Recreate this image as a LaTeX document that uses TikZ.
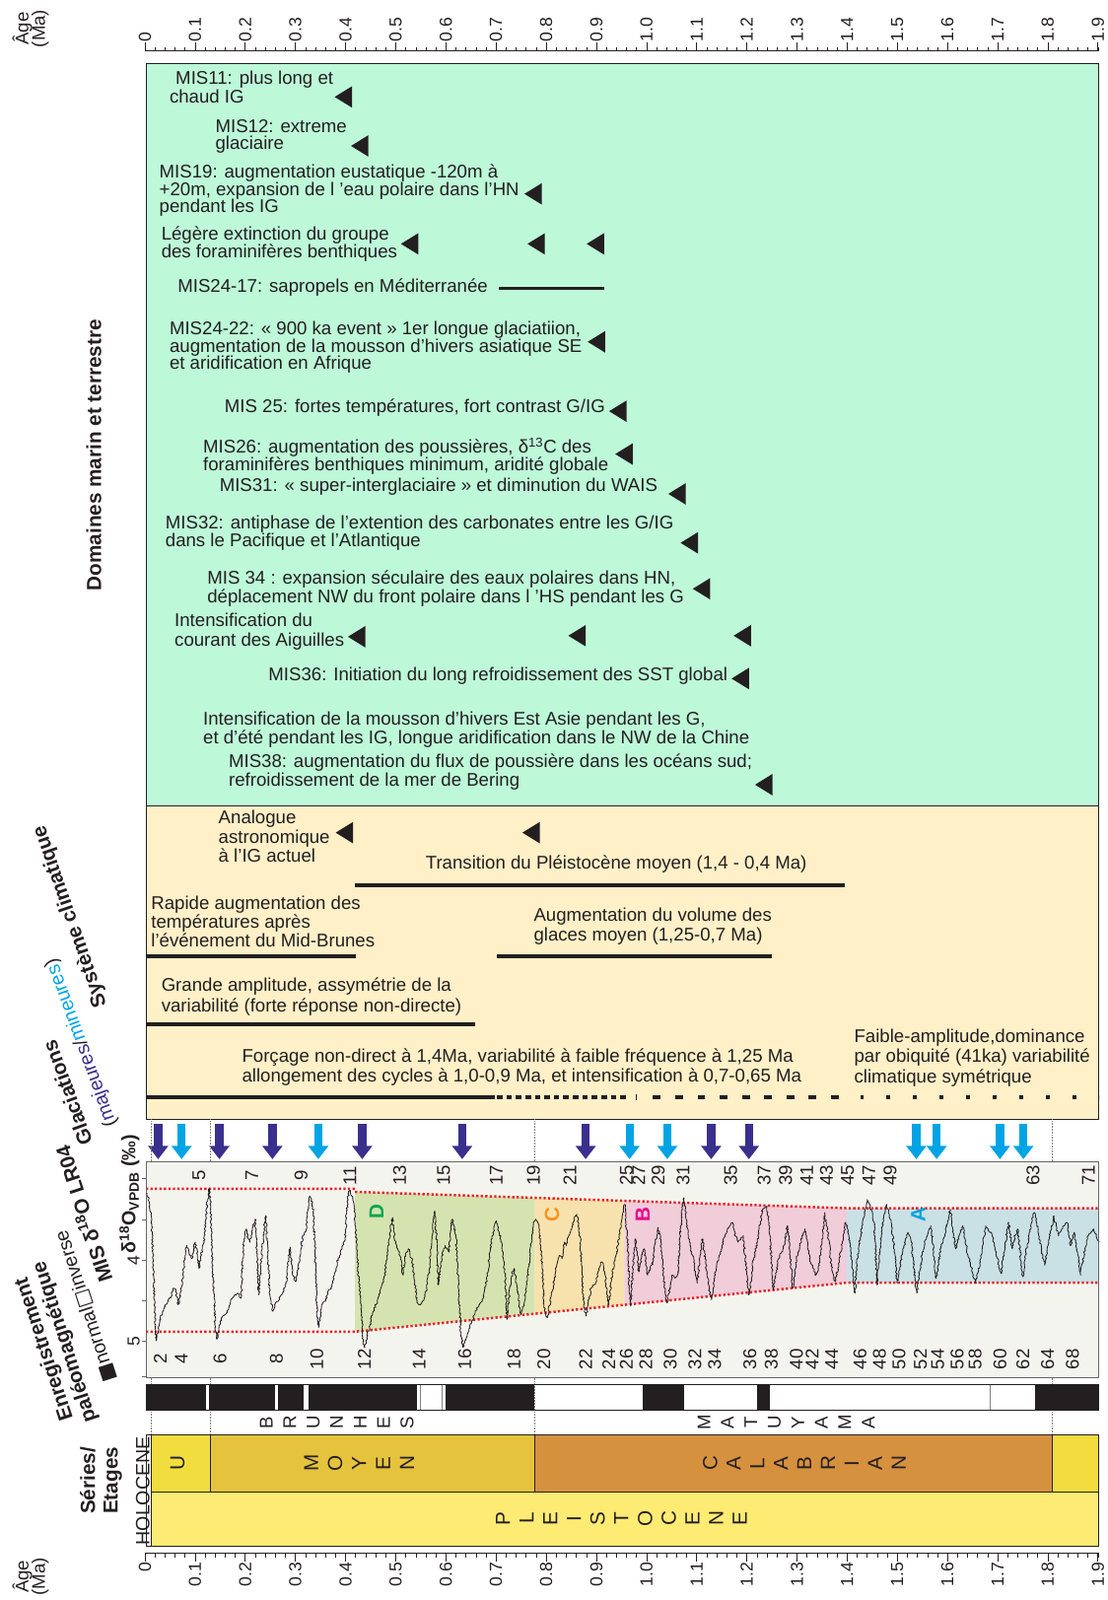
\documentclass[tikz,border=0pt]{standalone}
\usepackage{fontspec}
\setmainfont{Liberation Sans}
\newfontfamily\symbfont{DejaVu Sans}
\usetikzlibrary{arrows.meta,decorations.pathmorphing}
\definecolor{ink}{HTML}{231F20}
\definecolor{mint}{HTML}{BDF8D9}
\definecolor{cream}{HTML}{FFF0C8}
\definecolor{plotbg}{HTML}{F4F4EE}
\definecolor{zoneD}{HTML}{D5E3B0}
\definecolor{zoneC}{HTML}{F7E2AE}
\definecolor{zoneB}{HTML}{F1CCD9}
\definecolor{zoneA}{HTML}{C9E0E5}
\definecolor{labD}{HTML}{00A651}
\definecolor{labC}{HTML}{F7941D}
\definecolor{labB}{HTML}{EC008C}
\definecolor{labA}{HTML}{00A3E0}
\definecolor{major}{HTML}{3A2F8D}
\definecolor{minor}{HTML}{00A4E4}
\definecolor{redl}{HTML}{E62129}
\definecolor{upper}{HTML}{F2DD3F}
\definecolor{middle}{HTML}{E5C33C}
\definecolor{calab}{HTML}{D6913F}
\definecolor{gelas}{HTML}{F2DC3E}
\definecolor{pleist}{HTML}{FDEB73}
\newcommand{\fs}[2]{\fontsize{#1}{#2}\selectfont\lineskiplimit=-20pt}

\begin{document}
\begin{tikzpicture}[x=1pt,y=-1pt,text=ink,font=\fs{18}{19},
  declare function={ma(\a)=142+491.6*\a;},
  txt/.style={anchor=north west,inner sep=0pt,align=left},
  tight/.style={txt,font=\fs{18}{17}},
  loose/.style={txt,font=\fs{18}{19}},
  oneline/.style={anchor=west,inner sep=0pt},
  sidelab/.style={font=\bfseries\fs{20}{22}},
  rot/.style={rotate=90,inner sep=1pt},
  glac/.style={line width=8pt,-{Triangle[width=19pt,length=13pt]}},
  tline/.style={line width=3.8pt,draw=ink},
  reddots/.style={redl,line width=2.4pt,dash pattern=on 2.2pt off 2.2pt},
  guide/.style={gray,line width=0.5pt,densely dotted},
  lrcurve/.style={ink,line width=0.8pt,line join=round,decorate,
    decoration={random steps,segment length=1.5pt,amplitude=0.9pt}},
  evt/.pic={\fill[ink] (0,0) -- (17,-10.5) -- (17,10.5) -- cycle;}]
  \useasboundingbox (0,0) rectangle (1085,1568);

  % age axes
  \node[rot,align=center,font=\fs{18}{16}] (agetop) at (30,28) {Âge\\(Ma)};
  \node[rot,align=center,font=\fs{18}{16}] (agebot) at (30,1545) {Âge\\(Ma)};
  \draw[ink,line width=0.6pt] ({ma(0)},50) -- ({ma(1.9)},50);
  \draw[ink,line width=0.6pt] ({ma(0)},1522) -- ({ma(1.9)},1522);
  \foreach \i in {0,...,95}{
    \draw[ink,line width=0.5pt] ({ma(\i/50)},50) -- ++(0,-4);
    \draw[ink,line width=0.5pt] ({ma(\i/50)},1522) -- ++(0,4);
  }
  \foreach \t [count=\i] in {0,0.1,0.2,0.3,0.4,0.5,0.6,0.7,0.8,0.9,1.0,
                             1.1,1.2,1.3,1.4,1.5,1.6,1.7,1.8,1.9}{
    \draw[ink,line width=0.6pt] ({ma(\t)},50) -- ++(0,-8)
      node[rot,anchor=west,font=\fs{17}{17}] (ta\i) {\t};
    \draw[ink,line width=0.6pt] ({ma(\t)},1522) -- ++(0,8)
      node[rot,anchor=east,font=\fs{17}{17}] (ba\i) {\t};
  }

  % domaines marin et terrestre
  \draw[ink,line width=0.8pt,fill=mint] (143,62) rectangle (1077,790);
  \node[rot,sidelab] (dom) at (92,446) {Domaines marin et terrestre};
  \node[loose] (gt1) at (166,69) {\hspace*{6pt}MIS11: plus long et\\chaud IG};
  \node[tight] (gt2) at (211,117) {MIS12: extreme\\glaciaire};
  \node[tight] (gt3) at (156,161) {MIS19: augmentation eustatique -120m à\\+20m, expansion de l ’eau polaire dans l’HN\\pendant les IG};
  \node[tight] (gt4) at (158,222) {Légère extinction du groupe\\des foraminifères benthiques};
  \node[oneline] (gt5) at (174,282) {MIS24-17: sapropels en Méditerranée};
  \node[tight] (gt6) at (166,315) {MIS24-22: « 900 ka event » 1er longue glaciatiion,\\augmentation de la mousson d’hivers asiatique SE\\et aridification en Afrique};
  \node[oneline] (gt7) at (220,400) {MIS 25: fortes températures, fort contrast G/IG};
  \node[tight] (gt8) at (199,429) {MIS26: augmentation des poussières, δ\textsuperscript{13}C des\\foraminifères benthiques minimum, aridité globale};
  \node[oneline] (gt9) at (215,477) {MIS31: « super-interglaciaire » et diminution du WAIS};
  \node[tight] (gt10) at (162,505) {MIS32: antiphase de l’extention des carbonates entre les G/IG\\dans le Pacifique et l’Atlantique};
  \node[tight,font=\fs{18}{18}] (gt11) at (203,559) {MIS 34 : expansion séculaire des eaux polaires dans HN,\\déplacement NW du front polaire dans l ’HS pendant les G};
  \node[loose] (gt12) at (171,601) {Intensification du\\courant des Aiguilles};
  \node[oneline] (gt13) at (263,662) {MIS36: Initiation du long refroidissement des SST global};
  \node[loose] (gt14) at (199,697) {Intensification de la mousson d’hivers Est Asie pendant les G,\\et d’été pendant les IG, longue aridification dans le NW de la Chine};
  \node[tight,font=\fs{18}{18}] (gt15) at (224,739) {MIS38: augmentation du flux de poussière dans les océans sud;\\refroidissement de la mer de Bering};
  \draw[ink,line width=3pt] (489,283) -- (592,283);
  \foreach \x/\y in {328/95,344/143,514/190,393/239,517/239,575/239,576/335,
                     597/403,603/445,655/484,667/532,679/577,341/624,557/623,
                     719/623,717/665,740/769}
    \pic at (\x,\y) {evt};

  % systeme climatique
  \draw[ink,line width=0.8pt,fill=cream] (143,790) rectangle (1077,1097);
  \node[rotate=109,sidelab] (sys) at (69,898) {Système climatique};
  \node[loose] (bt1) at (214,794) {Analogue\\astronomique\\à l’IG actuel};
  \pic at (329,816) {evt};
  \pic at (512,816) {evt};
  \node[oneline] (bt2) at (417,847) {Transition du Pléistocène moyen (1,4 - 0,4 Ma)};
  \draw[tline] (348,868) -- (828,868);
  \node[txt,font=\fs{18}{18.5}] (bt3) at (148,878) {Rapide augmentation des\\températures après\\l’événement du Mid-Brunes};
  \draw[tline] (143,937) -- (349,937);
  \node[loose] (bt4) at (523,890) {Augmentation du volume des\\glaces moyen (1,25-0,7 Ma)};
  \draw[tline] (487,937) -- (756,937);
  \node[txt,font=\fs{18}{20}] (bt5) at (158,958) {Grande amplitude, assymétrie de la\\variabilité (forte réponse non-directe)};
  \draw[tline] (143,1004) -- (466,1004);
  \node[loose] (bt6) at (237,1028) {Forçage non-direct à 1,4Ma, variabilité à faible fréquence à 1,25 Ma\\allongement des cycles à 1,0-0,9 Ma, et intensification à 0,7-0,65 Ma};
  \node[txt,font=\fs{18}{20}] (bt7) at (837,1008) {Faible-amplitude,dominance\\par obiquité (41ka) variabilité\\climatique symétrique};
  \draw[tline] (143,1075) -- (485,1075);
  \draw[tline,dash pattern=on 5.4pt off 3.9pt] (487,1075) -- (615,1075);
  \draw[ink,line width=1pt] (624,1072) -- (624,1078);
  \draw[tline,dash pattern=on 7.6pt off 14.2pt] (640,1075) -- (822,1075);
  \draw[tline,dash pattern=on 3.6pt off 22.4pt] (843,1075) -- (1077,1075);

  % glaciations
  \node[rotate=110,sidelab] (glac1) at (66,1071) {Glaciations};
  \node[rotate=110,font=\fs{19}{19}] (glac2) at (80,1022)
    {(\textcolor{major}{majeures}/\textcolor{minor}{mineures})};
  \foreach \x in {155,215,267,355,453,574,697,734}
    \draw[glac,major] (\x,1101) -- (\x,1136);
  \foreach \x in {178,312,617,654,898,918,980,1003}
    \draw[glac,minor] (\x,1101) -- (\x,1136);
  \foreach \x in {148,206,524,1031}
    \draw[guide] (\x,1097) -- (\x,1406);

  % MIS d18O LR04
  \node[rotate=108,sidelab] (mis) at (81,1190) {MIS δ\textsuperscript{18}O LR04};
  \node[rot,font=\bfseries\fs{19}{19}] (dax) at (127,1170)
    {δ\textsuperscript{18}O\textsubscript{VPDB} (‰)};
  \fill[plotbg] (143,1138) rectangle (1077,1350);
  \fill[zoneD] (348,1168) -- (524,1173.8) -- (524,1287.5) -- (348,1305) -- cycle;
  \fill[zoneC] (524,1173.8) -- (612,1176.8) -- (612,1278.7) -- (524,1287.5) -- cycle;
  \fill[zoneB] (612,1176.8) -- (830,1184) -- (830,1257) -- (612,1278.7) -- cycle;
  \fill[zoneA] (830,1184) rectangle (1077,1257);
  \draw[reddots] (143,1165) -- (348,1165) (348,1168) -- (830,1184) -- (1077,1184);
  \draw[reddots] (143,1305) -- (348,1305) -- (830,1257) -- (1077,1257);
  \begin{scope}[shift={(0,1082.1)},x=0.345pt,y=-0.322pt]
    \draw[lrcurve] plot coordinates {(418,270) (424,300) (430,340) (436,520)
      (443,720) (450,690) (455,650) (462,630) (470,610) (478,595) (485,590)
      (492,560) (500,565) (505,610) (510,600) (515,560) (520,520) (525,470)
      (530,430) (537,455) (545,470) (550,440) (555,420) (560,455) (565,500)
      (570,470) (575,440) (580,420) (585,350) (590,290) (594,255) (598,300)
      (602,450) (607,560) (612,690) (616,715) (622,680) (630,650) (640,640)
      (650,620) (655,600) (660,590) (668,580) (675,575) (680,585) (685,590)
      (690,450) (695,400) (700,380) (705,410) (710,420) (717,380) (725,350)
      (730,460) (735,580) (740,500) (745,440) (750,380) (755,340) (760,450)
      (765,560) (770,600) (775,630) (780,610) (790,600) (800,580) (808,560)
      (815,540) (820,470) (824,435) (830,500) (835,530) (840,540) (845,510)
      (850,480) (855,440) (860,400) (865,390) (870,380) (875,320) (880,280)
      (885,290) (890,330) (895,450) (900,620) (905,680) (910,640) (915,610)
      (920,600) (925,600) (932,570) (940,560) (948,530) (955,500) (960,470)
      (965,460) (972,440) (980,410) (985,330) (990,270) (995,262) (1000,280)
      (1005,300) (1010,380) (1015,460) (1020,540) (1025,600) (1030,700)
      (1035,740) (1040,720) (1045,690) (1050,690) (1055,650) (1060,630)
      (1068,610) (1075,590) (1082,560) (1090,540) (1095,500) (1100,450)
      (1108,390) (1115,345) (1120,400) (1125,420) (1130,440) (1135,450)
      (1140,490) (1145,520) (1150,470) (1155,450) (1160,440) (1165,460)
      (1170,470) (1178,540) (1185,600) (1190,610) (1195,610) (1200,600)
      (1205,590) (1212,560) (1220,500) (1228,400) (1235,325) (1240,400)
      (1245,550) (1250,500) (1255,470) (1260,440) (1265,430) (1270,440)
      (1275,450) (1280,390) (1285,350) (1290,370) (1295,400) (1300,500)
      (1305,620) (1310,700) (1315,740) (1320,720) (1325,710) (1332,690)
      (1340,660) (1348,640) (1355,620) (1362,610) (1370,600) (1378,560)
      (1385,520) (1392,450) (1400,400) (1405,370) (1410,355) (1418,390)
      (1425,420) (1430,470) (1435,520) (1440,655) (1445,600) (1450,550)
      (1455,510) (1460,500) (1465,530) (1470,560) (1475,610) (1480,640)
      (1485,620) (1490,600) (1495,560) (1500,510) (1508,430) (1515,360)
      (1522,350) (1528,360) (1535,420) (1540,500) (1545,600) (1550,640)
      (1555,650)};
  \end{scope}
  \begin{scope}[shift={(541.1,1082.1)},x=0.3469pt,y=-0.322pt]
    \draw[lrcurve] plot coordinates {(-13,650) (0,570) (8,520) (15,480) (20,460)
      (28,470) (35,420) (40,430) (47,400) (55,380) (62,350) (70,335) (75,370)
      (80,420) (85,520) (90,620) (97,645) (103,600) (110,560) (118,550)
      (125,540) (132,500) (140,480) (145,490) (150,520) (155,570) (160,610)
      (167,540) (175,480) (182,450) (190,400) (198,340) (205,305) (210,380)
      (215,450) (218,560) (222,615) (228,500) (235,410) (240,460) (245,510)
      (252,470) (260,440) (265,480) (270,520) (278,500) (285,480) (292,420)
      (300,375) (305,410) (310,450) (318,560) (325,605) (332,560) (340,520)
      (348,530) (355,510) (362,400) (368,320) (372,285) (378,340) (385,400)
      (392,440) (400,470) (405,520) (410,545) (418,460) (425,410) (432,470)
      (440,530) (445,570) (450,595) (457,540) (465,490) (472,460) (480,430)
      (488,400) (495,380) (502,370) (510,360) (517,400) (525,420) (532,410)
      (540,400) (547,480) (555,580) (560,560) (565,500) (572,460) (580,420)
      (588,360) (595,320) (601,315) (607,310) (611,350) (615,400) (620,480)
      (625,565) (632,520) (640,470) (648,450) (655,430) (660,400) (665,370)
      (672,450) (680,560) (685,520) (690,470) (695,450) (700,430) (708,400)
      (715,380) (722,420) (730,480) (738,500) (745,520) (750,510) (755,490)
      (762,420) (770,330) (775,360) (780,400) (785,450) (790,500) (795,520)
      (800,540) (807,500) (815,450) (822,400) (830,360) (835,380) (840,420)
      (848,500) (855,575) (860,500) (865,440) (870,410) (875,380) (882,330)
      (890,290) (895,300) (900,320) (905,330) (910,360) (914,450) (918,550)
      (924,470) (930,400) (937,340) (945,305) (950,330) (955,350) (960,380)
      (965,420) (970,480) (975,545) (982,500) (990,450) (997,420) (1005,390)
      (1010,400) (1015,420) (1022,500) (1030,575) (1037,520) (1045,460)
      (1052,420) (1060,400) (1065,380) (1070,370) (1078,450) (1085,530)
      (1092,480) (1100,430) (1105,410) (1110,400) (1117,360) (1125,320)
      (1132,380) (1140,440) (1150,400) (1160,370) (1167,410) (1175,460)
      (1182,490) (1190,520) (1198,545) (1204,510) (1210,480) (1218,420)
      (1225,370) (1232,380) (1240,390) (1248,420) (1255,450) (1262,490)
      (1268,515) (1274,470) (1280,430) (1285,390) (1290,360) (1295,400)
      (1300,440) (1308,400) (1315,380) (1322,450) (1330,525) (1337,460)
      (1345,410) (1352,370) (1358,340) (1362,330) (1368,360) (1375,400)
      (1383,450) (1392,490) (1398,450) (1405,410) (1412,370) (1418,340)
      (1424,370) (1430,400) (1435,390) (1440,380) (1447,370) (1455,360)
      (1460,400) (1465,430) (1470,410) (1475,390) (1484,450) (1493,520)
      (1499,480) (1505,440) (1510,420) (1515,400) (1522,390) (1530,380)
      (1537,400) (1545,420)};
  \end{scope}
  \draw[gray!80!black,line width=0.7pt] (143,1138) rectangle (1077,1350);
  \foreach \y in {1155,1195,1235,1275,1314,1349}
    \draw[gray!80!black,line width=0.6pt] (143,\y) -- ++(-4,0);
  \node[rot,font=\fs{17}{17}] (d4) at (131,1235) {4};
  \node[rot,font=\fs{17}{17}] (d5) at (131,1314) {5};
  \foreach \n/\x in {5/195,7/246.7,9/295,11/343,13/391.6,15/434.8,17/486.5,
      19/522.8,21/558.5,25/614,27/626,29/645,31/669.5,35/716,37/749,39/770,
      41/790.8,43/810,45/830.7,47/851.6,49/872.4,63/1012.5,71/1066.7}
    \node[rot,font=\fs{18}{18}] (odd\n) at (\x,1152) {\n};
  \foreach \n/\x in {2/157,4/177.7,6/215.7,8/270.9,10/310.5,12/357,14/410.7,
      16/455.5,18/503.8,20/533,22/574,24/596.6,26/614,28/633,30/657,32/681,
      34/700.4,36/735,38/756,40/780.5,42/796,44/815,46/843,48/862,50/881,
      52/902,54/919,56/938,58/955.6,60/980,62/1002.5,64/1026.8,68/1051}
    \node[rot,font=\fs{18}{18}] (even\n) at (\x,1332) {\n};
  \node[rot,font=\bfseries\fs{20}{20},text=labD] (zD) at (369,1187) {D};
  \node[rot,font=\bfseries\fs{20}{20},text=labC] (zC) at (541,1190) {C};
  \node[rot,font=\bfseries\fs{20}{20},text=labB] (zB) at (630,1190) {B};
  \node[rot,font=\bfseries\fs{20}{20},text=labA] (zA) at (900,1190) {A};

  % paleomagnetisme
  \node[rotate=108,sidelab] (enr1) at (44,1322) {Enregistrement};
  \node[rotate=108,sidelab] (enr2) at (64,1315) {paléomagnétique};
  \node[rotate=108,font=\fs{19}{19}] (enr3) at (84,1280)
    {{\symbfont■}normal{\symbfont□}inverse};
  \foreach \a/\b in {143/202,205/270,272.5/297.5,302/409,436.5/524,629.5/670,
                     741.5/755,1014.5/1077}
    \fill[ink] (\a,1357) rectangle (\b,1382);
  \foreach \x in {411.5,433,970}
    \draw[gray,line width=0.6pt] (\x,1357) -- (\x,1382);
  \draw[ink,line width=0.7pt] (143,1357) rectangle (1077,1382);
  \foreach \l [count=\i from 0] in {B,R,U,N,H,E,S}
    \node[rot,font=\fs{18}{18}] (br\i) at (261+23*\i,1394) {\l};
  \foreach \l [count=\i from 0] in {M,A,T,U,Y,A,M,A}
    \node[rot,font=\fs{18}{18}] (mt\i) at (690+23*\i,1394) {\l};

  % series / etages
  \node[rot,align=center,sidelab] (serie) at (99,1451) {Séries/\\Etages};
  \draw[ink,line width=0.7pt,fill=white] (143,1406) rectangle (148,1515);
  \draw[ink,line width=0.7pt,fill=upper] (148,1406) rectangle (206,1462);
  \draw[ink,line width=0.7pt,fill=middle] (206,1406) rectangle (524,1462);
  \draw[ink,line width=0.7pt,fill=calab] (524,1406) rectangle (1031,1462);
  \draw[ink,line width=0.7pt,fill=gelas] (1031,1406) rectangle (1077,1462);
  \draw[ink,line width=0.7pt,fill=pleist] (148,1462) rectangle (1077,1515);
  \node[rot,font=\fs{19}{19}] (holo) at (140,1461) {HOLOCENE};
  \node[rot,font=\fs{20}{20}] (stU) at (174,1434) {U};
  \foreach \l [count=\i from 0] in {M,O,Y,E,N}
    \node[rot,font=\fs{20}{20}] (moy\i) at (305+23.5*\i,1434) {\l};
  \foreach \l [count=\i from 0] in {C,A,L,A,B,R,I,A,N}
    \node[rot,font=\fs{20}{20}] (cal\i) at (696+23.1*\i,1434) {\l};
  \foreach \l [count=\i from 0] in {P,L,E,I,S,T,O,C,E,N,E}
    \node[rot,font=\fs{20}{20}] (ple\i) at (493+23.2*\i,1488) {\l};
\end{tikzpicture}
\end{document}
